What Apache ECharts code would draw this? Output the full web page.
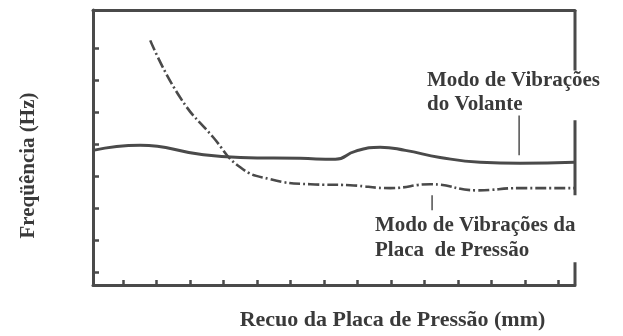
<!DOCTYPE html>
<html><head><meta charset="utf-8">
<script src="https://cdn.jsdelivr.net/npm/echarts@6/dist/echarts.min.js"></script>
<style>html,body{margin:0;padding:0;background:#fff}#c{width:623px;height:336px}</style>
</head><body><div id="c"></div>
<script>
// ---- data (arbitrary units) ----
const xTicks = [1,2,3,4,5,6,7,8,9,10,11,12,13,14];
const yTicks = [1,2,3,4,5,6,7,8];
const xRange = [0.1, 14.5];
const yRange = [0.6, 9.2];

const volanteX = [0.10,1.51,3.30,4.50,6.29,7.34,7.93,8.68,9.43,10.47,11.67,12.86,14.48];
const volanteY = [4.81,4.97,4.69,4.59,4.56,4.53,4.78,4.91,4.81,4.59,4.44,4.41,4.44];

const placaX = [1.81,2.70,3.69,4.50,5.39,6.59,7.78,8.98,10.18,11.58,12.86,14.48];
const placaY = [8.25,6.47,5.22,4.28,3.91,3.75,3.72,3.63,3.75,3.56,3.63,3.63];

const volanteLinkX = [12.83,12.83];
const volanteLinkY = [5.90,4.66];
const placaLinkX = [10.23,10.23];
const placaLinkY = [3.41,2.94];

// right frame pieces (gaps left for the labels)
const rightFrameSegments = [[9.2,7.31],[5.75,3.41],[1.31,0.6]];

const xAxisTitle = 'Recuo da Placa de Pressão (mm)';
const yAxisTitle = 'Freqüência (Hz)';
const volanteLabel = ['Modo de Vibrações', 'do Volante'];
const placaLabel = ['Modo de Vibrações da', 'Placa  de Pressão'];

// ---- chart ----
const ink = '#4a4a4a';
const textInk = '#3a3a3a';
const font = '"Liberation Serif", "Times New Roman", serif';
const zip = (xs, ys) => xs.map((x, i) => [x, ys[i]]);

const chart = echarts.init(document.getElementById('c'));
const series = [
  { type:'line', name:'Volante', data: zip(volanteX, volanteY), symbol:'none', smooth:0.5,
    lineStyle:{ color: ink, width: 3 }, z:3 },
  { type:'line', name:'Placa', data: zip(placaX, placaY), symbol:'none', smooth:0.5,
    lineStyle:{ color: ink, width: 2.6, type:[11,3,2,3] }, z:3 },
  { type:'line', data: zip(volanteLinkX, volanteLinkY), symbol:'none', lineStyle:{ color:'#333', width:1.3 } },
  { type:'line', data: zip(placaLinkX, placaLinkY), symbol:'none', lineStyle:{ color:'#333', width:1.3 } }
];
rightFrameSegments.forEach(seg => {
  series.push({ type:'line', data: seg.map(v => [xRange[1], v]), symbol:'none',
    lineStyle:{ color: ink, width: 3 }, z:4 });
});

chart.setOption({
  animation: false,
  backgroundColor: '#fff',
  grid: { left: 93, right: 48, top: 10, bottom: 51 },
  xAxis: [{
    type:'value', min: xRange[0], max: xRange[1], position:'bottom',
    axisLine:{ show:true, lineStyle:{ color: ink, width: 3 } },
    axisTick:{ show:true, inside:true, length:5, lineStyle:{ color: ink, width: 2.5 }, customValues: xTicks },
    axisLabel:{ show:false }, splitLine:{ show:false },
    name: xAxisTitle, nameLocation:'middle', nameGap: 24,
    nameTextStyle:{ fontFamily: font, fontWeight:'bold', fontSize: 22, color: textInk, padding:[0,0,0,117] }
  },{
    type:'value', min: xRange[0], max: xRange[1], position:'top',
    axisLine:{ show:true, lineStyle:{ color: ink, width: 3 } },
    axisTick:{ show:false }, axisLabel:{ show:false }, splitLine:{ show:false }
  }],
  yAxis: {
    type:'value', min: yRange[0], max: yRange[1],
    axisLine:{ show:true, lineStyle:{ color: ink, width: 3 } },
    axisTick:{ show:true, inside:true, length:6, lineStyle:{ color: ink, width: 2.5 }, customValues: yTicks },
    axisLabel:{ show:false }, splitLine:{ show:false },
    name: yAxisTitle, nameLocation:'middle', nameGap: 54,
    nameTextStyle:{ fontFamily: font, fontWeight:'bold', fontSize: 21, color: textInk, padding:[0,36,0,0] }
  },
  graphic: [
    { type:'text', left: 427, top: 69, style:{ text: volanteLabel.join('\n'), font: 'bold 21px ' + font, fill: textInk, lineHeight: 24 } },
    { type:'text', left: 375, top: 213, style:{ text: placaLabel.join('\n'), font: 'bold 21px ' + font, fill: textInk, lineHeight: 25 } }
  ],
  series: series
});
</script></body></html>
